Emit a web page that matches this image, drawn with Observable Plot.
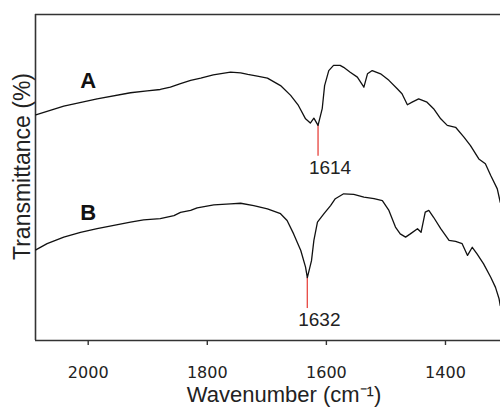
<!DOCTYPE html>
<html>
<head>
<meta charset="utf-8">
<script src="https://cdn.jsdelivr.net/npm/d3@7"></script>
<script src="https://cdn.jsdelivr.net/npm/@observablehq/plot@0.6"></script>
<style>
  html, body { margin: 0; padding: 0; background: #fff; }
</style>
</head>
<body>
<div id="chart"></div>
<script>
// FTIR spectra of samples A and B, 2090–1300 cm⁻¹ (offset, arbitrary %T)
const waveA = [2088, 2041, 1985, 1929, 1901, 1879, 1862, 1845, 1828, 1811, 1790, 1761, 1744, 1732, 1716, 1699, 1677, 1660, 1647, 1635, 1627, 1621, 1614, 1607, 1603, 1596, 1588, 1577, 1571, 1560, 1548, 1537, 1531, 1523, 1509, 1495, 1481, 1473, 1464, 1456, 1445, 1431, 1420, 1408, 1397, 1383, 1369, 1358, 1344, 1333, 1324, 1313, 1308];
const transA = [69.2, 71.9, 74.1, 76.0, 76.6, 77.0, 77.7, 78.8, 79.8, 80.5, 81.5, 82.3, 82.1, 81.6, 81.1, 80.5, 78.2, 75.2, 72.1, 68.0, 66.7, 68.2, 66.0, 71.1, 78.2, 82.8, 84.4, 84.4, 83.8, 82.3, 80.8, 77.7, 81.8, 82.8, 81.8, 79.8, 77.2, 75.7, 72.3, 73.1, 74.1, 73.1, 71.1, 68.0, 66.0, 65.4, 62.4, 59.8, 55.7, 54.2, 50.6, 46.5, 42.4];

const waveB = [2088, 2069, 2041, 2013, 1985, 1957, 1929, 1907, 1879, 1856, 1845, 1828, 1817, 1789, 1761, 1744, 1722, 1699, 1677, 1666, 1655, 1643, 1635, 1632, 1625, 1621, 1615, 1604, 1593, 1585, 1571, 1554, 1537, 1520, 1506, 1495, 1484, 1476, 1467, 1459, 1447, 1441, 1434, 1428, 1420, 1408, 1394, 1383, 1372, 1363, 1355, 1347, 1336, 1324, 1316, 1310, 1308];
const transB = [27.8, 29.7, 31.7, 33.2, 34.3, 35.3, 36.3, 37.0, 37.4, 38.3, 39.3, 39.9, 40.7, 41.6, 41.9, 42.1, 41.4, 40.4, 38.9, 36.8, 32.7, 27.6, 22.5, 19.3, 24.5, 30.7, 36.3, 38.9, 41.4, 43.5, 45.0, 44.8, 44.0, 43.5, 42.9, 39.9, 34.8, 32.7, 31.7, 32.7, 34.3, 33.2, 39.4, 39.9, 37.8, 34.3, 30.7, 30.4, 29.7, 26.1, 28.6, 26.6, 23.5, 19.4, 16.3, 12.8, 10.7];

// Marked absorption bands
const peakWaves = [1614, 1632];
const peakTop = [66.0, 19.3];
const peakBottom = [56.5, 9.8];

// Curve names and where they sit
const seriesNames = ["A", "B"];
const seriesLabelWave = [2000, 2000];
const seriesLabelTrans = [79.6, 39.0];

const xTicks = [2000, 1800, 1600, 1400];
const xDomain = [2088.5, 1307.6];
const yDomain = [0, 100];

const xLabel = "Wavenumber (cm⁻¹)";
const yLabel = "Transmittance (%)";

const specA = waveA.map((w, i) => ({wave: w, t: transA[i]}));
const specB = waveB.map((w, i) => ({wave: w, t: transB[i]}));
const peaks = peakWaves.map((w, i) => ({wave: w, top: peakTop[i], bottom: peakBottom[i], label: String(w)}));
const names = seriesNames.map((n, i) => ({name: n, wave: seriesLabelWave[i], t: seriesLabelTrans[i]}));

const frameColor = "#333";
const fontMain = "Liberation Sans, Arial, sans-serif";

const chart = Plot.plot({
  width: 500,
  height: 407,
  marginLeft: 35,
  marginRight: 0,
  marginTop: 14,
  marginBottom: 67,
  style: {fontFamily: fontMain, background: "#fff", overflow: "visible"},
  x: {domain: xDomain, axis: null},
  y: {domain: yDomain, axis: null},
  marks: [
    // frame: left, top and bottom edges
    Plot.ruleX([xDomain[0]], {stroke: frameColor, strokeWidth: 1.6}),
    Plot.ruleY([yDomain[1]], {stroke: frameColor, strokeWidth: 1.6}),
    Plot.ruleY([yDomain[0]], {stroke: frameColor, strokeWidth: 1.6}),
    Plot.axisX({
      ticks: xTicks,
      tickSize: 5,
      tickPadding: 21,
      tickFormat: d => String(d),
      stroke: frameColor,
      strokeWidth: 1.4,
      fill: "#222",
      fontFamily: "DejaVu Sans, sans-serif",
      fontSize: 16,
      label: null
    }),
    // band markers
    Plot.ruleX(peaks, {x: "wave", y1: "top", y2: "bottom", stroke: "#e8504a", strokeWidth: 1.4}),
    Plot.text(peaks, {x: "wave", y: "bottom", text: "label", dx: 12, dy: 4, lineAnchor: "top", fontSize: 19, fill: "#222"}),
    // spectra
    Plot.line(specA, {x: "wave", y: "t", stroke: "#111", strokeWidth: 1.3}),
    Plot.line(specB, {x: "wave", y: "t", stroke: "#111", strokeWidth: 1.3}),
    Plot.text(names, {x: "wave", y: "t", text: "name", fontSize: 22, fontWeight: "bold", fill: "#111"}),
    // axis titles
    Plot.text([xLabel], {frameAnchor: "bottom", textAnchor: "middle", lineAnchor: "middle", dx: 16, dy: 54, fontSize: 22, fill: "#222"}),
    Plot.text([yLabel], {frameAnchor: "left", textAnchor: "middle", lineAnchor: "middle", dx: -13, dy: -11, rotate: -90, fontSize: 23, fill: "#222"})
  ]
});

document.getElementById("chart").appendChild(chart);
</script>
</body>
</html>
